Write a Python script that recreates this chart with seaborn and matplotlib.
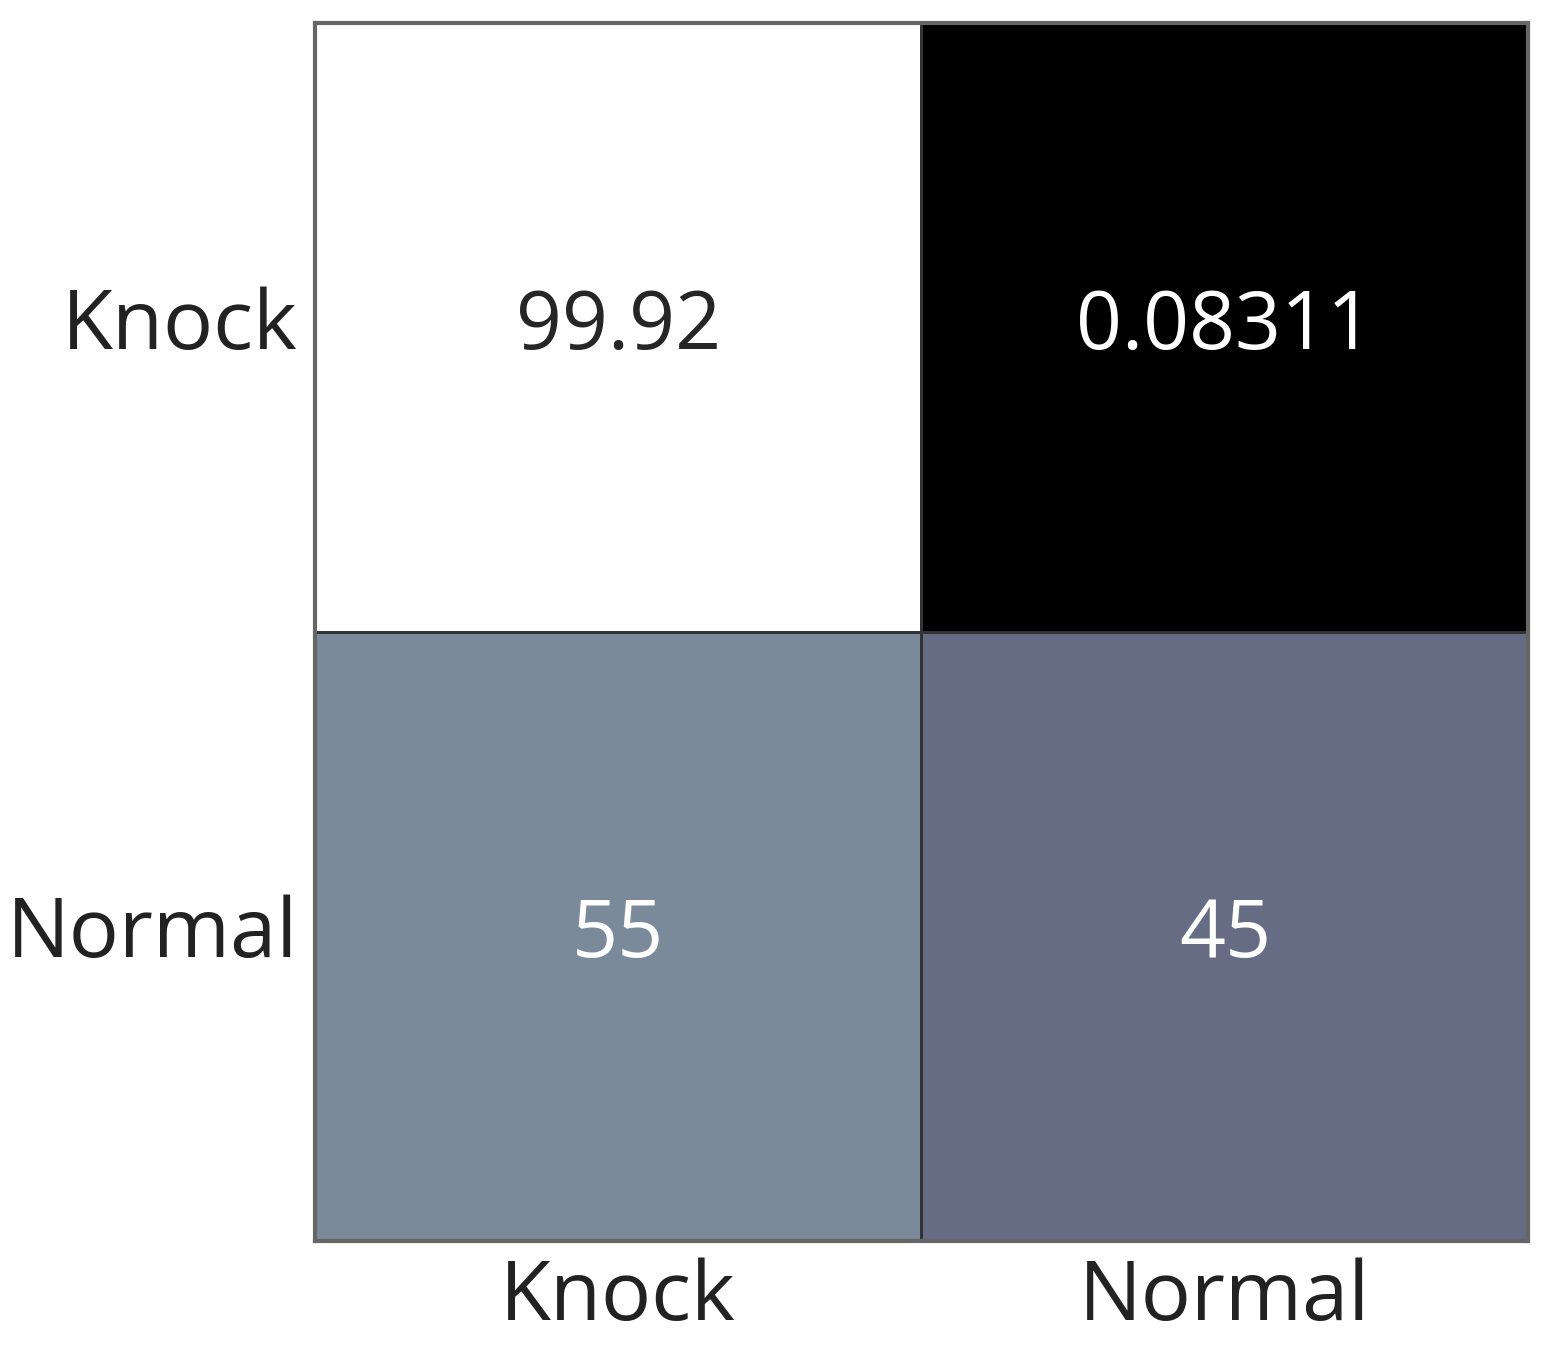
import matplotlib
matplotlib.use("Agg")
import matplotlib.pyplot as plt
import seaborn as sns
import numpy as np
import pandas as pd

labels = ["Knock", "Normal"]
row_knock = [99.92, 0.08311]
row_normal = [55, 45]
annot_text = [["99.92", "0.08311"], ["55", "45"]]

sns.set_style("white")
plt.rcParams['font.family'] = ['Open Sans', 'DejaVu Sans']

df = pd.DataFrame([row_knock, row_normal], index=labels, columns=labels)
fig = plt.figure(figsize=(15.5, 13.5), dpi=100)
ax = fig.add_axes([0.203, 0.081, 0.783, 0.902])
sns.heatmap(df, cmap="bone", vmin=0, vmax=100, annot=np.array(annot_text), fmt="",
            cbar=False, linewidths=2, linecolor="#333333", ax=ax,
            annot_kws={"fontsize": 58})
for s in ax.spines.values():
    s.set_visible(True)
    s.set_color("#666666")
    s.set_linewidth(3)
ax.tick_params(axis="both", length=0, labelsize=60, colors="#222222", pad=12)
plt.setp(ax.get_yticklabels(), rotation=0)
fig.savefig("out.png", dpi=100)
